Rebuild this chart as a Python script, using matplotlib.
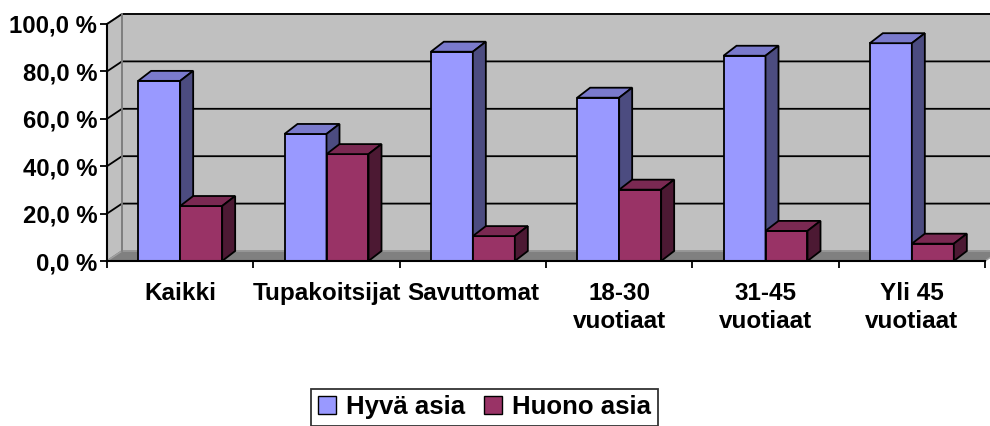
import matplotlib
matplotlib.use("Agg")
import matplotlib.pyplot as plt
from matplotlib.patches import Polygon, Patch

plt.rcParams['font.family'] = ['Liberation Sans', 'DejaVu Sans']

categories = ["Kaikki", "Tupakoitsijat", "Savuttomat", "18-30\nvuotiaat", "31-45\nvuotiaat", "Yli 45\nvuotiaat"]
hyva = [76.0, 53.6, 88.3, 68.9, 86.6, 91.9]
huono = [23.2, 45.1, 10.5, 30.1, 12.7, 7.3]
series_names = ["Hyvä asia", "Huono asia"]
yticks = [0, 20, 40, 60, 80, 100]
ytick_labels = ["0,0 %", "20,0 %", "40,0 %", "60,0 %", "80,0 %", "100,0 %"]

W, H = 990, 426
fig = plt.figure(figsize=(W / 100, H / 100), dpi=100)
ax_l, ax_r, ax_t, ax_b = 107, 985, 24, 261
ax = fig.add_axes([ax_l / W, 1 - ax_b / H, (ax_r - ax_l) / W, (ax_b - ax_t) / H])
n = len(categories)
ax.set_xlim(0, n)
ax.set_ylim(0, 100)
ax.patch.set_visible(False)

pxx = (ax_r - ax_l) / n
pxy = (ax_b - ax_t) / 100
wdx, wdy = 15 / pxx, 10 / pxy
bdx, bdy = 13 / pxx, 10 / pxy

wall = "#C0C0C0"
edge = "#808080"
# back wall
ax.add_patch(Polygon([(wdx, wdy), (n + wdx, wdy), (n + wdx, 100 + wdy), (wdx, 100 + wdy)],
                     closed=True, fc=wall, ec=edge, lw=1.3, clip_on=False, zorder=0))
# side wall
ax.add_patch(Polygon([(0, 0), (wdx, wdy), (wdx, 100 + wdy), (0, 100)],
                     closed=True, fc=wall, ec=edge, lw=1.3, clip_on=False, zorder=0))
# floor
ax.add_patch(Polygon([(0, 0), (n, 0), (n + wdx, wdy), (wdx, wdy)],
                     closed=True, fc="#808080", ec="#A0A0A0", lw=1.0, clip_on=False, zorder=0.5))
# gridlines
for g in yticks[1:]:
    ax.plot([0, wdx, n + wdx], [g, g + wdy, g + wdy], color="black", lw=1.3, clip_on=False, zorder=1)
ax.plot([wdx, wdx], [wdy, 100 + wdy], color=edge, lw=1.3, clip_on=False, zorder=1)

bw = 0.287
colors = [("#9999FF", "#7A7ACC", "#4C4C80"), ("#993366", "#7A2952", "#4C1933")]
x_centers = [i + 0.5 for i in range(n)]
z = 2
for i, c in enumerate(x_centers):
    for s, (vals, offs) in enumerate([(hyva, -bw), (huono, 0.0)]):
        v = vals[i]
        x0 = c + offs
        x1 = x0 + bw
        fc, tc, sc = colors[s]
        ax.bar([x0], [v], width=bw, align="edge", color=fc, edgecolor="black", lw=1.3,
               zorder=z, clip_on=False)
        ax.add_patch(Polygon([(x0, v), (x1, v), (x1 + bdx, v + bdy), (x0 + bdx, v + bdy)],
                             closed=True, fc=tc, ec="black", lw=1.3, clip_on=False, zorder=z))
        ax.add_patch(Polygon([(x1, 0), (x1 + bdx, bdy), (x1 + bdx, v + bdy), (x1, v)],
                             closed=True, fc=sc, ec="black", lw=1.3, clip_on=False, zorder=z))
        z += 1

for sp in ["top", "right"]:
    ax.spines[sp].set_visible(False)
for sp in ["left", "bottom"]:
    ax.spines[sp].set_linewidth(1.5)
    ax.spines[sp].set_zorder(50)

fs = 17.2
ax.set_yticks(yticks)
ax.set_yticklabels(ytick_labels, fontsize=fs, fontweight="bold")
ax.tick_params(axis="y", length=5, width=1.3, pad=2)
ax.set_xticks(x_centers)
ax.set_xticklabels(categories, fontsize=17.5, fontweight="bold", linespacing=1.3)
ax.tick_params(axis="x", which="major", length=0, pad=15)
ax.set_xticks(range(n + 1), minor=True)
ax.tick_params(axis="x", which="minor", length=5, width=1.3)

handles = [Patch(fc=colors[0][0], ec="black", lw=1.0), Patch(fc=colors[1][0], ec="black", lw=1.0)]
leg = fig.legend(handles, series_names, loc="lower center", bbox_to_anchor=(484.5 / W, -0.005),
                 ncol=2, frameon=True, fancybox=False, edgecolor="black",
                 prop={"size": 18.5, "weight": "bold"}, handlelength=0.72, handleheight=0.72,
                 handletextpad=0.4, columnspacing=0.7, borderpad=0.25, borderaxespad=0.1)
leg.get_frame().set_linewidth(1.3)

fig.savefig("out.png", dpi=100)
